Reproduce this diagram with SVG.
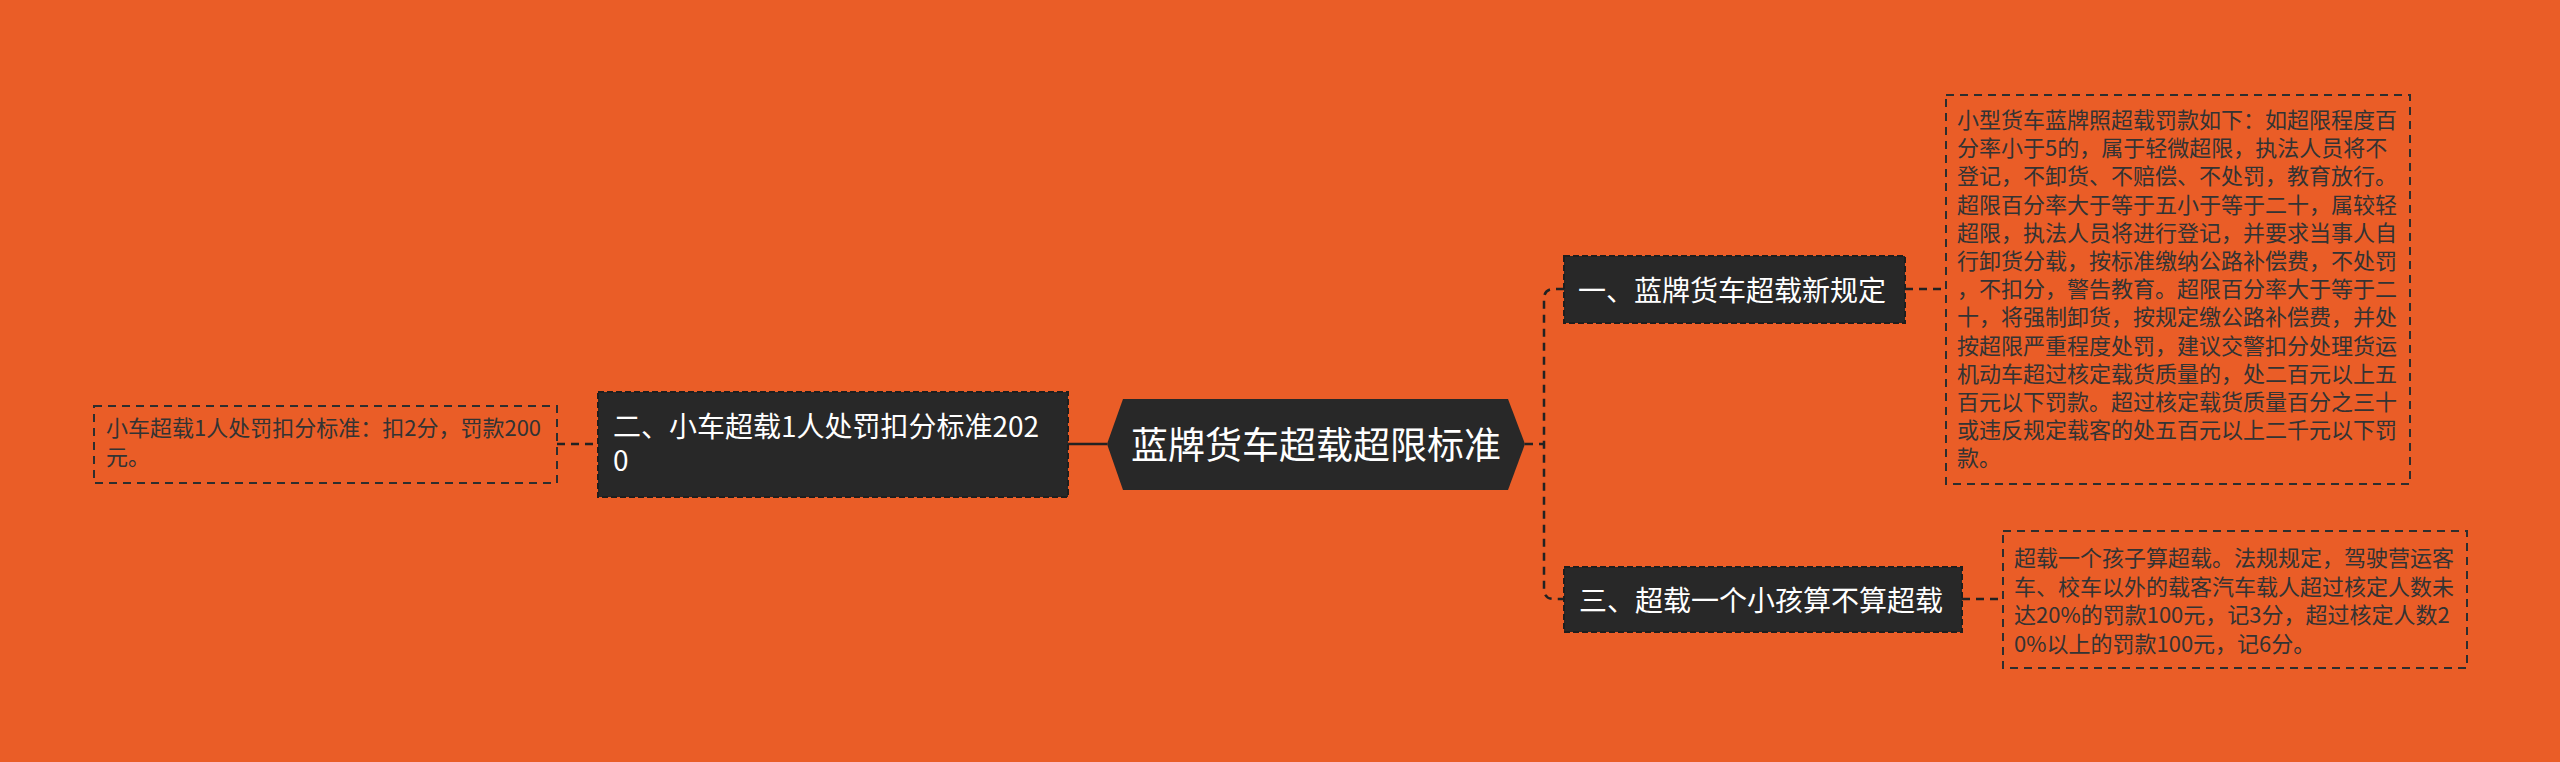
<svg xmlns="http://www.w3.org/2000/svg" width="2560" height="762" viewBox="0 0 2560 762">
<style>
text{font-family:"Noto Sans CJK SC","Noto Sans",sans-serif;}
.node{fill:#282828;stroke:#1e1e1e;stroke-width:2;stroke-dasharray:6 3;}
.nt{fill:#ffffff;font-size:28px;}
.leaf{fill:none;stroke:#2e2e2e;stroke-width:2;stroke-dasharray:8 6;}
.lt{fill:#333333;font-size:22px;}
.conn{fill:none;stroke:#222222;stroke-width:2.5;stroke-dasharray:8 6;}
.solid{fill:none;stroke:#222222;stroke-width:2.5;}
</style>
<rect x="0" y="0" width="2560" height="762" fill="#EA5D27"/>
<g id="connectors">
<path class="solid" d="M1068 444 H1107"/>
<path class="conn" d="M557 444 H598"/>
<path class="conn" d="M1525 444 H1544"/>
<path class="conn" d="M1564 289 H1554 Q1544 289 1544 299 V589 Q1544 599 1554 599 H1564"/>
<path class="conn" d="M1905 289 H1946"/>
<path class="conn" d="M1962 599 H2003"/>
</g>
<g id="root">
<polygon points="1107,444 1123,399 1508,399 1525,444 1508,490 1123,490" fill="#282828"/>
<text x="1316" y="459" fill="#ffffff" font-size="37" text-anchor="middle">蓝牌货车超载超限标准</text>
</g>
<g id="node-left">
<rect class="node" x="598" y="392" width="470" height="105"/>
<text class="nt"><tspan x="613" y="437">二、小车超载1人处罚扣分标准202</tspan><tspan x="613" y="471">0</tspan></text>
</g>
<g id="leaf-left">
<rect class="leaf" x="94" y="406" width="463" height="77"/>
<text class="lt"><tspan x="106" y="436">小车超载1人处罚扣分标准：扣2分，罚款200</tspan><tspan x="106" y="465">元。</tspan></text>
</g>
<g id="node-1">
<rect class="node" x="1564" y="256" width="341" height="67"/>
<text class="nt" x="1578" y="301">一、蓝牌货车超载新规定</text>
</g>
<g id="leaf-1">
<rect class="leaf" x="1946" y="95" width="464" height="389"/>
<text class="lt"><tspan x="1957" y="128">小型货车蓝牌照超载罚款如下：如超限程度百</tspan><tspan x="1957" y="156.2">分率小于5的，属于轻微超限，执法人员将不</tspan><tspan x="1957" y="184.4">登记，不卸货、不赔偿、不处罚，教育放行。</tspan><tspan x="1957" y="212.6">超限百分率大于等于五小于等于二十，属较轻</tspan><tspan x="1957" y="240.8">超限，执法人员将进行登记，并要求当事人自</tspan><tspan x="1957" y="269">行卸货分载，按标准缴纳公路补偿费，不处罚</tspan><tspan x="1957" y="297.2">，不扣分，警告教育。超限百分率大于等于二</tspan><tspan x="1957" y="325.4">十，将强制卸货，按规定缴公路补偿费，并处</tspan><tspan x="1957" y="353.6">按超限严重程度处罚，建议交警扣分处理货运</tspan><tspan x="1957" y="381.8">机动车超过核定载货质量的，处二百元以上五</tspan><tspan x="1957" y="410">百元以下罚款。超过核定载货质量百分之三十</tspan><tspan x="1957" y="438.2">或违反规定载客的处五百元以上二千元以下罚</tspan><tspan x="1957" y="466.4">款。</tspan></text>
</g>
<g id="node-3">
<rect class="node" x="1564" y="567" width="398" height="65"/>
<text class="nt" x="1579" y="611">三、超载一个小孩算不算超载</text>
</g>
<g id="leaf-3">
<rect class="leaf" x="2003" y="531" width="464" height="137"/>
<text class="lt"><tspan x="2014" y="566">超载一个孩子算超载。法规规定，驾驶营运客</tspan><tspan x="2014" y="594.5">车、校车以外的载客汽车载人超过核定人数未</tspan><tspan x="2014" y="623">达20%的罚款100元，记3分，超过核定人数2</tspan><tspan x="2014" y="651.5">0%以上的罚款100元，记6分。</tspan></text>
</g>
</svg>
